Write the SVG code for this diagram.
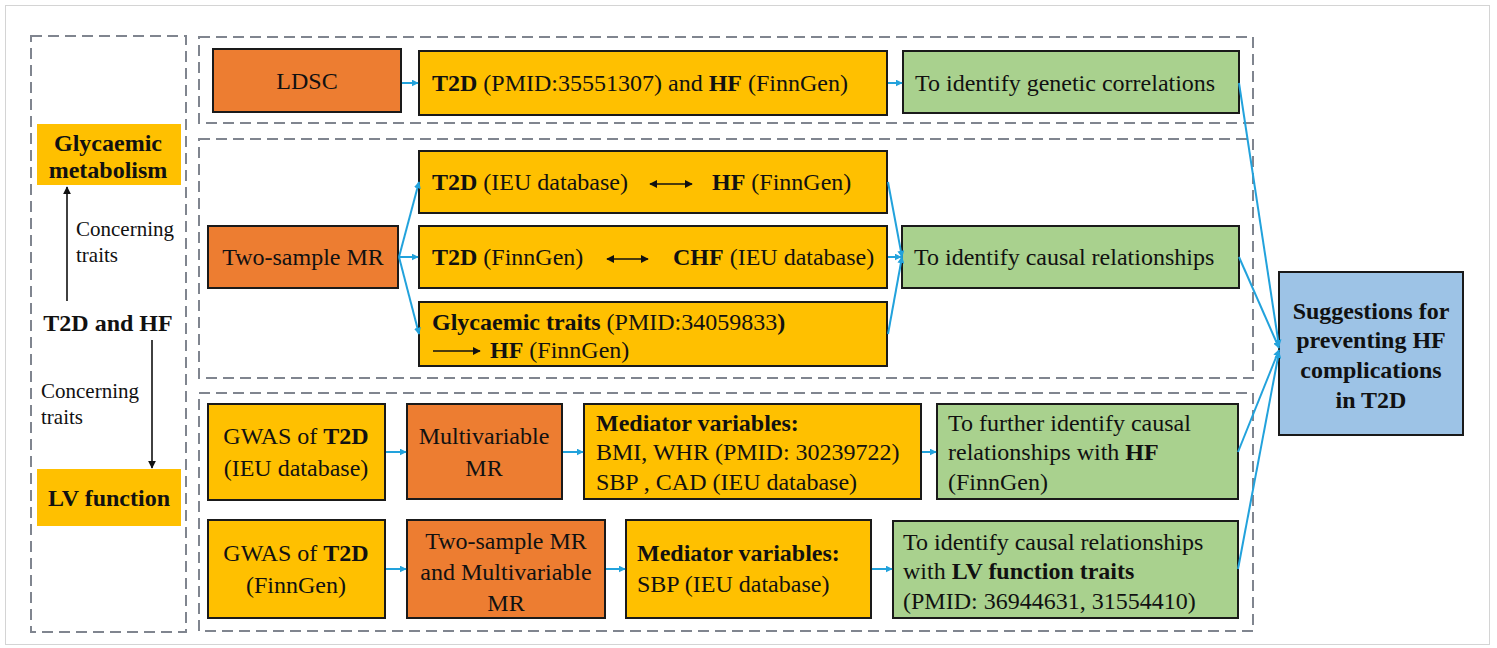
<svg xmlns="http://www.w3.org/2000/svg" width="1497" height="648" viewBox="0 0 1497 648" font-family="'Liberation Serif', 'Times New Roman', 'DejaVu Serif', serif">
<style>
text{font-family:'Liberation Serif','Times New Roman','DejaVu Serif',serif;font-size:24px;fill:#111}
.b{font-weight:bold}
.s{font-size:21px}
.c{text-anchor:middle}
.dash{fill:none;stroke:#80858f;stroke-width:2;stroke-dasharray:11 6}
.box{stroke:#1a1a1a;stroke-width:2}
.or{fill:#ED7D31}
.ye{fill:#FFC000}
.gr{fill:#A9D18E}
.bl{fill:#9DC3E6}
.con{fill:none;stroke:#22A2DC;stroke-width:2}
.blk{fill:none;stroke:#111;stroke-width:1.6}
</style>
<defs>
<marker id="ab" viewBox="0 0 10 10" refX="9" refY="5" markerWidth="7" markerHeight="7" markerUnits="userSpaceOnUse" orient="auto"><path d="M0,0 L10,5 L0,10 z" fill="#22A2DC"/></marker>
<marker id="ak" viewBox="0 0 10 10" refX="9" refY="5" markerWidth="8" markerHeight="8" markerUnits="userSpaceOnUse" orient="auto-start-reverse"><path d="M0,0 L10,5 L0,10 z" fill="#111"/></marker>
</defs>
<rect x="5.5" y="5.5" width="1484" height="639" fill="#fff" stroke="#d4d4d4" stroke-width="1"/>

<g id="panels">
<rect class="dash" x="31" y="36" width="155" height="596"/>
<rect class="dash" x="199" y="37" width="1054" height="86"/>
<rect class="dash" x="199" y="139" width="1054" height="239"/>
<rect class="dash" x="199" y="393" width="1054" height="238"/>
</g>

<g id="left-panel">
<g id="glycaemic-metabolism"><rect class="ye" x="37" y="124" width="144" height="61"/>
<text class="b c" x="108" y="151">Glycaemic</text><text class="b c" x="108" y="178">metabolism</text></g>
<g id="t2d-hf"><text class="b c" x="108" y="331">T2D and HF</text></g>
<g id="lv-function"><rect class="ye" x="37" y="469" width="144" height="57"/>
<text class="b c" x="109" y="506">LV function</text></g>
<text class="s" x="76" y="236">Concerning</text><text class="s" x="76" y="262">traits</text>
<text class="s" x="41" y="398">Concerning</text><text class="s" x="41" y="424">traits</text>
<line class="blk" x1="67" y1="301" x2="67" y2="187" marker-end="url(#ak)"/>
<line class="blk" x1="152" y1="340" x2="152" y2="468" marker-end="url(#ak)"/>
</g>

<g id="ldsc"><rect class="box or" x="213" y="49" width="188" height="63"/><text class="c" x="307" y="89">LDSC</text></g>
<g id="ldsc-data"><rect class="box ye" x="419" y="51" width="468" height="64"/>
<text x="432" y="91"><tspan class="b">T2D</tspan> (PMID:35551307) and <tspan class="b">HF</tspan> (FinnGen)</text></g>
<g id="genetic-corr"><rect class="box gr" x="903" y="51" width="336" height="62"/><text x="915" y="91">To identify genetic correlations</text></g>

<g id="two-sample-mr"><rect class="box or" x="208" y="226" width="190" height="62"/><text class="c" x="303" y="265">Two-sample MR</text></g>
<g id="mr-ieu"><rect class="box ye" x="419" y="151" width="468" height="62"/>
<text x="432" y="190"><tspan class="b">T2D</tspan> (IEU database)</text><text x="712" y="190"><tspan class="b">HF</tspan> (FinnGen)</text>
<line class="blk" x1="650" y1="184" x2="692" y2="184" marker-start="url(#ak)" marker-end="url(#ak)"/></g>
<g id="mr-finngen"><rect class="box ye" x="419" y="226" width="468" height="62"/>
<text x="432" y="265"><tspan class="b">T2D</tspan> (FinnGen)</text><text x="673" y="265"><tspan class="b">CHF</tspan> (IEU database)</text>
<line class="blk" x1="607" y1="259" x2="648" y2="259" marker-start="url(#ak)" marker-end="url(#ak)"/></g>
<g id="mr-glycaemic"><rect class="box ye" x="419" y="302" width="468" height="64"/>
<text x="432" y="330"><tspan class="b">Glycaemic traits</tspan> (PMID:34059833<tspan class="b">)</tspan></text>
<text x="490" y="358"><tspan class="b">HF</tspan> (FinnGen)</text>
<line class="blk" x1="433" y1="351" x2="480" y2="351" marker-end="url(#ak)"/></g>
<g id="causal"><rect class="box gr" x="902" y="226" width="337" height="62"/><text x="914" y="265">To identify causal relationships</text></g>

<g id="gwas-ieu"><rect class="box ye" x="208" y="404" width="177" height="96"/>
<text class="c" x="296" y="444">GWAS of <tspan class="b">T2D</tspan></text><text class="c" x="296" y="476">(IEU database)</text></g>
<g id="mvmr"><rect class="box or" x="407" y="404" width="155" height="95"/>
<text class="c" x="484" y="444">Multivariable</text><text class="c" x="484" y="476">MR</text></g>
<g id="mediator-1"><rect class="box ye" x="584" y="404" width="337" height="95"/>
<text class="b" x="596" y="431">Mediator variables:</text><text x="596" y="460">BMI, WHR (PMID: 30239722)</text><text x="596" y="490">SBP , CAD (IEU database)</text></g>
<g id="further-causal"><rect class="box gr" x="937" y="404" width="301" height="95"/>
<text x="948" y="431">To further identify causal</text><text x="948" y="460">relationships with <tspan class="b">HF</tspan></text><text x="948" y="490">(FinnGen)</text></g>

<g id="gwas-finngen"><rect class="box ye" x="208" y="520" width="177" height="98"/>
<text class="c" x="296" y="561">GWAS of <tspan class="b">T2D</tspan></text><text class="c" x="296" y="593">(FinnGen)</text></g>
<g id="ts-mvmr"><rect class="box or" x="407" y="520" width="198" height="98"/>
<text class="c" x="506" y="549">Two-sample MR</text><text class="c" x="506" y="580">and Multivariable</text><text class="c" x="506" y="611">MR</text></g>
<g id="mediator-2"><rect class="box ye" x="626" y="520" width="245" height="98"/>
<text class="b" x="637" y="561">Mediator variables:</text><text x="637" y="592">SBP (IEU database)</text></g>
<g id="lv-causal"><rect class="box gr" x="893" y="521" width="345" height="97"/>
<text x="903" y="550">To identify causal relationships</text><text x="903" y="579">with <tspan class="b">LV function traits</tspan></text><text x="903" y="609">(PMID: 36944631, 31554410)</text></g>

<g id="suggestions"><rect class="box bl" x="1279" y="272" width="184" height="163"/>
<text class="b c" x="1371" y="319">Suggestions for</text><text class="b c" x="1371" y="348">preventing HF</text><text class="b c" x="1371" y="378">complications</text><text class="b c" x="1371" y="408">in T2D</text></g>

<g id="connectors">
<line class="con" x1="402" y1="83" x2="418" y2="83" marker-end="url(#ab)"/>
<line class="con" x1="888" y1="83" x2="902" y2="83" marker-end="url(#ab)"/>
<line class="con" x1="399" y1="257" x2="419" y2="182" marker-end="url(#ab)"/>
<line class="con" x1="399" y1="257" x2="418" y2="257" marker-end="url(#ab)"/>
<line class="con" x1="399" y1="257" x2="419" y2="334" marker-end="url(#ab)"/>
<line class="con" x1="888" y1="182" x2="902" y2="257" marker-end="url(#ab)"/>
<line class="con" x1="888" y1="257" x2="901" y2="257" marker-end="url(#ab)"/>
<line class="con" x1="888" y1="334" x2="902" y2="257" marker-end="url(#ab)"/>
<line class="con" x1="386" y1="452" x2="406" y2="452" marker-end="url(#ab)"/>
<line class="con" x1="563" y1="452" x2="583" y2="452" marker-end="url(#ab)"/>
<line class="con" x1="922" y1="452" x2="936" y2="452" marker-end="url(#ab)"/>
<line class="con" x1="386" y1="569" x2="406" y2="569" marker-end="url(#ab)"/>
<line class="con" x1="606" y1="569" x2="625" y2="569" marker-end="url(#ab)"/>
<line class="con" x1="872" y1="569" x2="892" y2="569" marker-end="url(#ab)"/>
<line class="con" x1="1239" y1="83" x2="1279" y2="346" marker-end="url(#ab)"/>
<line class="con" x1="1239" y1="257" x2="1279" y2="348" marker-end="url(#ab)"/>
<line class="con" x1="1238" y1="452" x2="1279" y2="350" marker-end="url(#ab)"/>
<line class="con" x1="1238" y1="569" x2="1279" y2="352" marker-end="url(#ab)"/>
</g>
</svg>
